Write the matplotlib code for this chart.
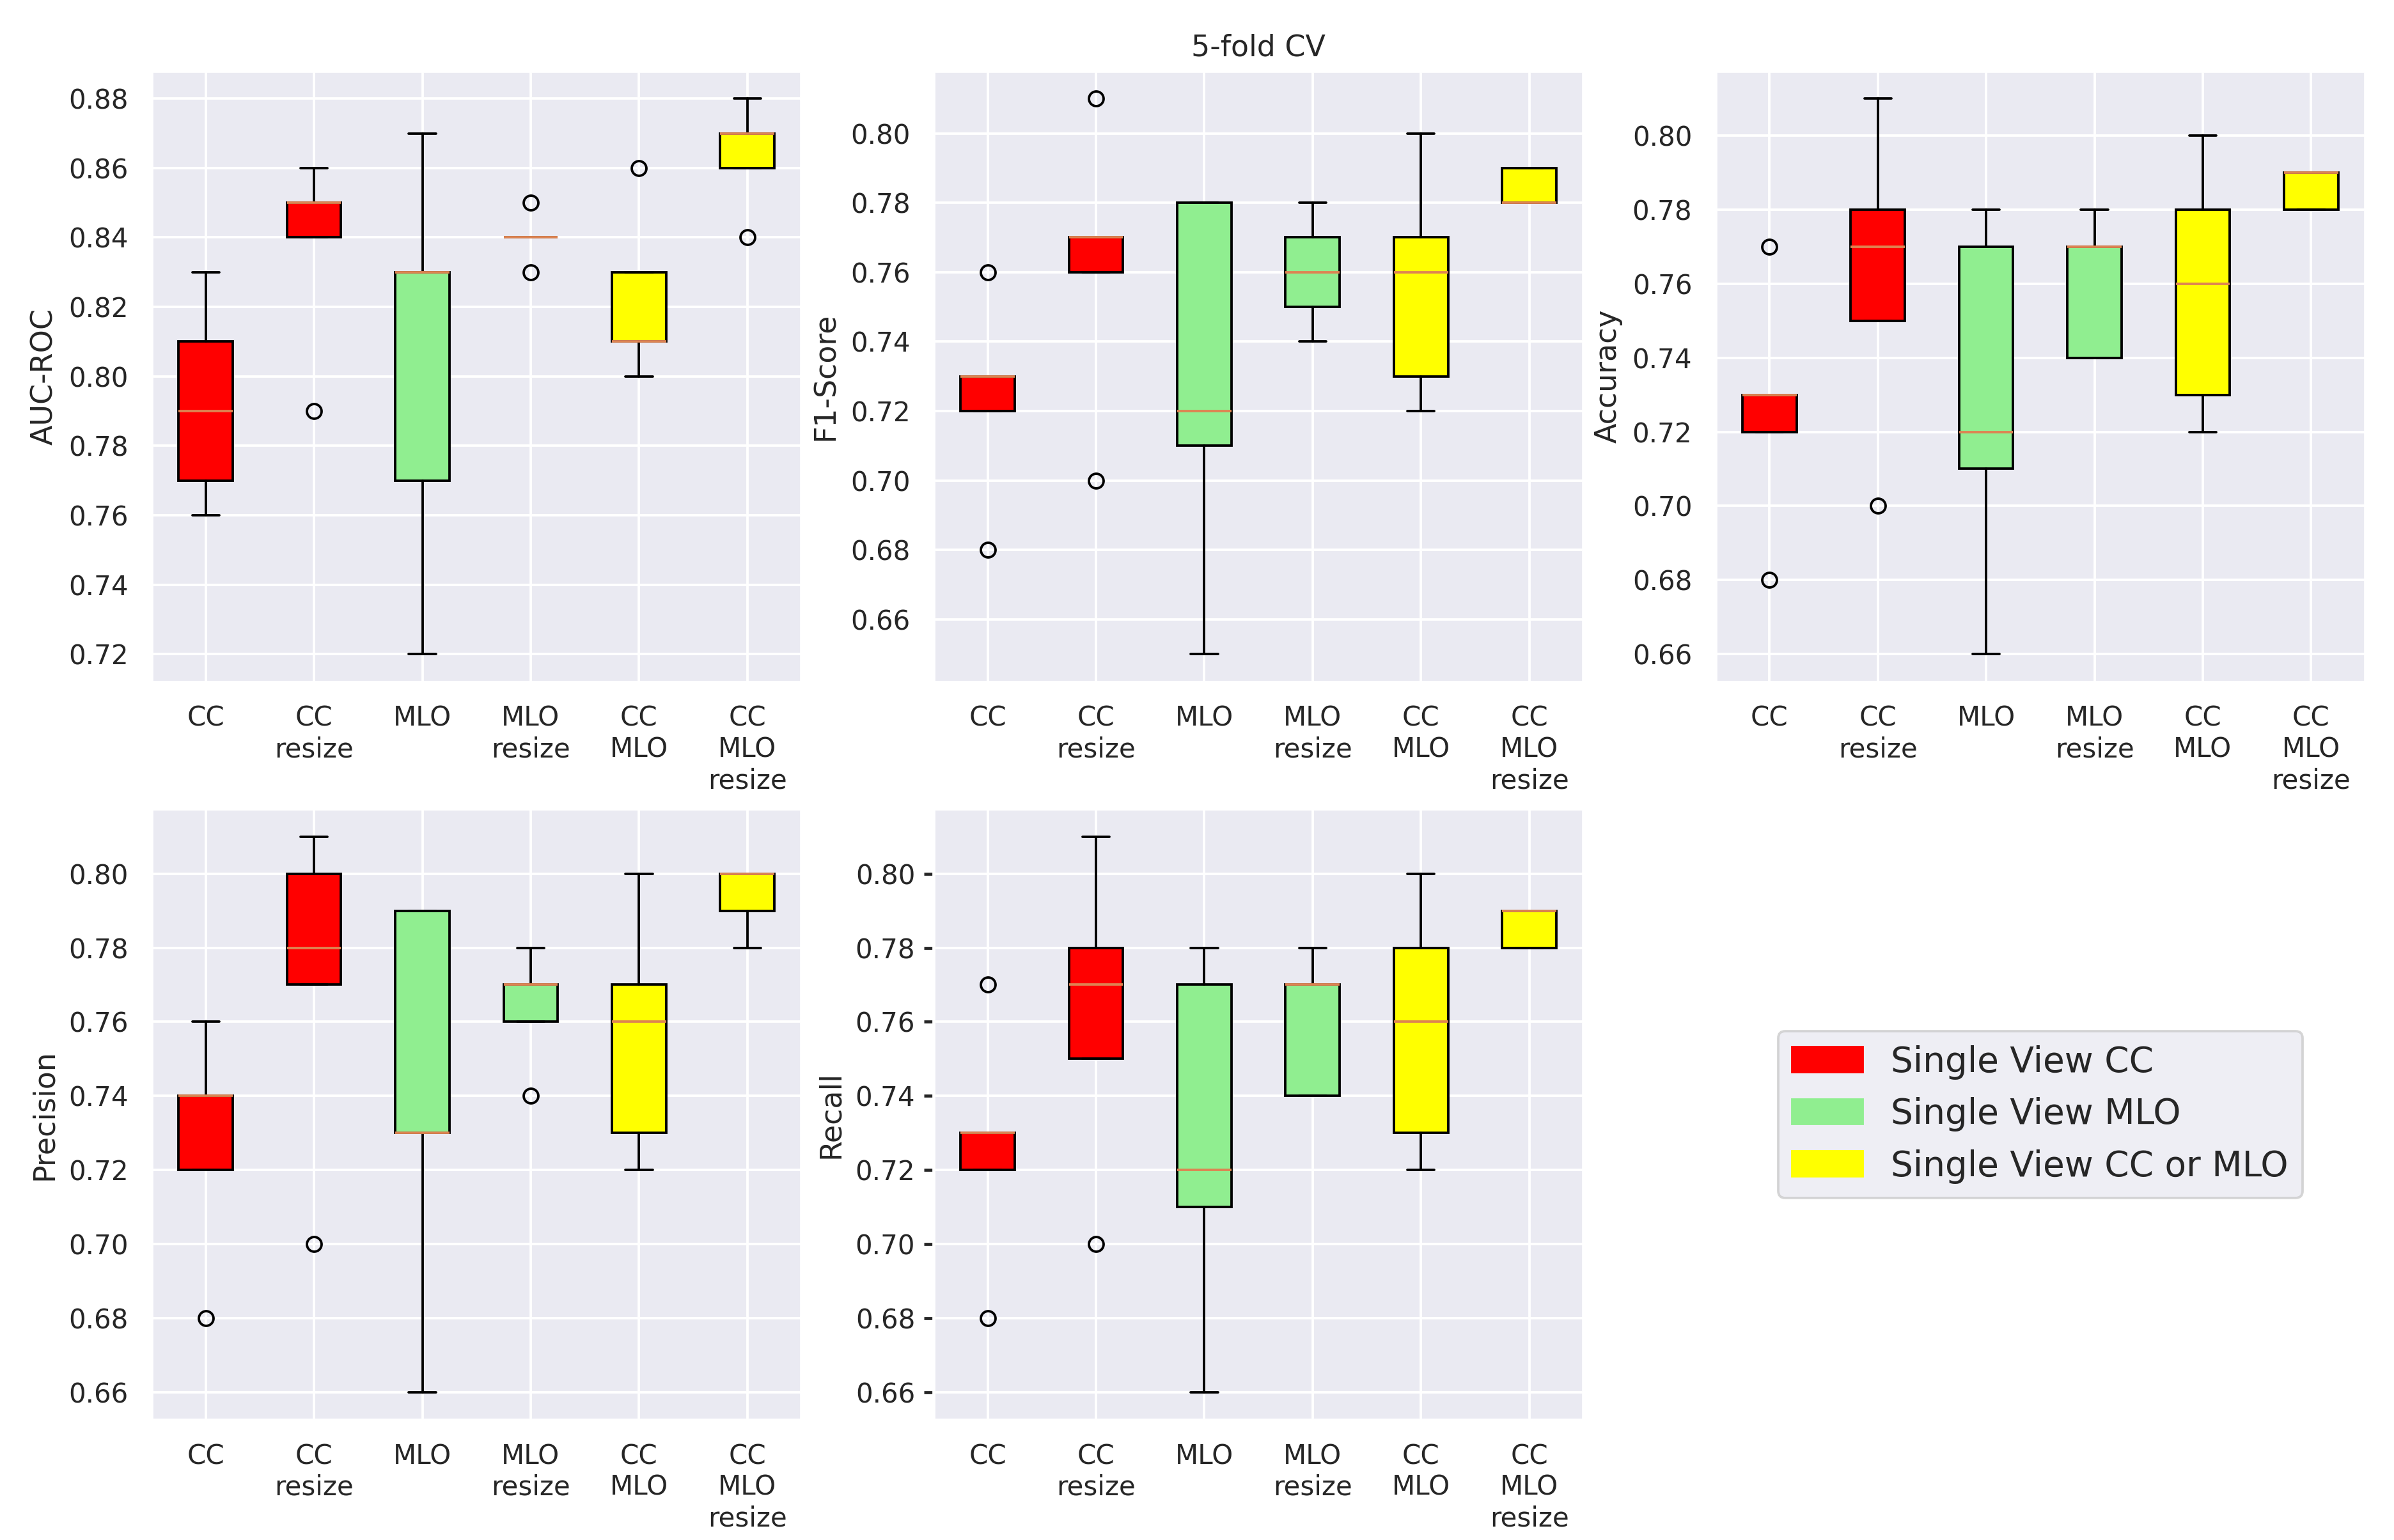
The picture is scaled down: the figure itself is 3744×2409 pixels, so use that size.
import numpy as np
import matplotlib
matplotlib.use("Agg")
import matplotlib.pyplot as plt
import matplotlib.patches as mpatches
import seaborn as sns

# =====================================================
# STYLE
# =====================================================
sns.set_theme(style="darkgrid")

# =====================================================
# DATA (5-fold CV scores per configuration)
# =====================================================
configs = ["CC", "CC\nresize", "MLO", "MLO\nresize", "CC\nMLO", "CC\nMLO\nresize"]
box_colors = ["red", "red", "lightgreen", "lightgreen", "yellow", "yellow"]

auc_roc = [
    [0.76, 0.77, 0.79, 0.81, 0.83],
    [0.79, 0.84, 0.85, 0.85, 0.86],
    [0.72, 0.77, 0.83, 0.83, 0.87],
    [0.83, 0.84, 0.84, 0.84, 0.85],
    [0.80, 0.81, 0.81, 0.83, 0.86],
    [0.84, 0.86, 0.87, 0.87, 0.88],
]

f1_score = [
    [0.68, 0.72, 0.73, 0.73, 0.76],
    [0.70, 0.76, 0.77, 0.77, 0.81],
    [0.65, 0.71, 0.72, 0.78, 0.78],
    [0.74, 0.75, 0.76, 0.77, 0.78],
    [0.72, 0.73, 0.76, 0.77, 0.80],
    [0.78, 0.78, 0.78, 0.79, 0.79],
]

accuracy = [
    [0.68, 0.72, 0.73, 0.73, 0.77],
    [0.70, 0.75, 0.77, 0.78, 0.81],
    [0.66, 0.71, 0.72, 0.77, 0.78],
    [0.74, 0.74, 0.77, 0.77, 0.78],
    [0.72, 0.73, 0.76, 0.78, 0.80],
    [0.78, 0.78, 0.79, 0.79, 0.79],
]

precision = [
    [0.68, 0.72, 0.74, 0.74, 0.76],
    [0.70, 0.77, 0.78, 0.80, 0.81],
    [0.66, 0.73, 0.73, 0.79, 0.79],
    [0.74, 0.76, 0.77, 0.77, 0.78],
    [0.72, 0.73, 0.76, 0.77, 0.80],
    [0.78, 0.79, 0.80, 0.80, 0.80],
]

recall = [
    [0.68, 0.72, 0.73, 0.73, 0.77],
    [0.70, 0.75, 0.77, 0.78, 0.81],
    [0.66, 0.71, 0.72, 0.77, 0.78],
    [0.74, 0.74, 0.77, 0.77, 0.78],
    [0.72, 0.73, 0.76, 0.78, 0.80],
    [0.78, 0.78, 0.79, 0.79, 0.79],
]

legend_labels = ["Single View CC", "Single View MLO", "Single View CC or MLO"]
legend_colors = ["red", "lightgreen", "yellow"]

# =====================================================
# FIGURE
# =====================================================
fig, axes = plt.subplots(2, 3, figsize=(3744 / 275, 2409 / 275))
fig.subplots_adjust(left=0.0633, right=0.988, top=0.954, bottom=0.078,
                    wspace=0.203, hspace=0.208)

panels = [
    (axes[0, 0], auc_roc, "AUC-ROC"),
    (axes[0, 1], f1_score, "F1-Score"),
    (axes[0, 2], accuracy, "Accuracy"),
    (axes[1, 0], precision, "Precision"),
    (axes[1, 1], recall, "Recall"),
]

for ax, data, name in panels:
    bp = ax.boxplot(data, patch_artist=True, tick_labels=configs)
    for patch, c in zip(bp["boxes"], box_colors):
        patch.set_facecolor(c)
    ax.set_ylabel(name)

axes[0, 1].set_title("5-fold CV")

# only the recall panel shows y tick marks
axes[1, 1].tick_params(axis="y", left=True, length=4, width=1.25, color=".15")

# =====================================================
# LEGEND IN EMPTY SLOT
# =====================================================
axes[1, 2].axis("off")
handles = [mpatches.Patch(color=c, label=l) for c, l in zip(legend_colors, legend_labels)]
axes[1, 2].legend(handles=handles, loc="center", fontsize="large")

plt.savefig("out.png", dpi=275)
plt.close()
